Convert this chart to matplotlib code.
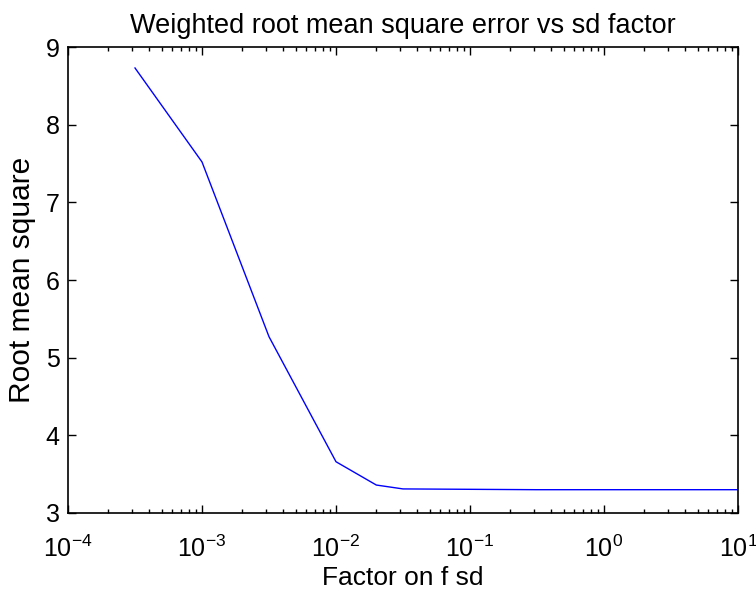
import matplotlib
matplotlib.use("Agg")
import matplotlib.pyplot as plt
from matplotlib.ticker import LogLocator, NullFormatter

sd_factor = [3.162e-4, 1e-3, 3.162e-3, 1e-2, 2e-2, 3.162e-2, 1e-1, 3.162e-1, 1.0, 3.162, 10.0]
rms = [8.73, 7.52, 5.27, 3.66, 3.36, 3.31, 3.305, 3.30, 3.30, 3.30, 3.30]
y_ticks = [3, 4, 5, 6, 7, 8, 9]

plt.rcParams['font.family'] = ['Liberation Sans', 'DejaVu Sans']
plt.rcParams['mathtext.fontset'] = 'custom'
plt.rcParams['mathtext.rm'] = 'Liberation Sans'
plt.rcParams['mathtext.it'] = 'Liberation Sans'
plt.rcParams['mathtext.default'] = 'regular'

fig = plt.figure(figsize=(7.56, 5.91), dpi=100)
ax = fig.add_axes([68/756, 78/591, 670/756, 466/591])
ax.plot(sd_factor, rms, color=(0, 0, 1), lw=1.0)
ax.set_xscale('log')
ax.set_xlim(1e-4, 10)
ax.set_ylim(3, 9)
ax.set_yticks(y_ticks)
ax.xaxis.set_major_locator(LogLocator(base=10, numticks=10))
ax.xaxis.set_minor_locator(LogLocator(base=10, subs=range(2, 10), numticks=50))
ax.xaxis.set_minor_formatter(NullFormatter())
ax.tick_params(which='both', direction='in', top=True, right=True, labelsize=18, width=1)
ax.tick_params(which='major', length=6)
ax.tick_params(which='minor', length=3)
ax.tick_params(axis='x', pad=16)
ax.tick_params(axis='y', pad=6)
for s in ax.spines.values():
    s.set_linewidth(1.2)
ax.set_title('Weighted root mean square error vs sd factor', fontsize=19.5, pad=10)
ax.set_xlabel('Factor on f sd', fontsize=19, labelpad=3)
ax.set_ylabel('Root mean square', fontsize=21.5, labelpad=7)
fig.savefig('out.png', dpi=100)
